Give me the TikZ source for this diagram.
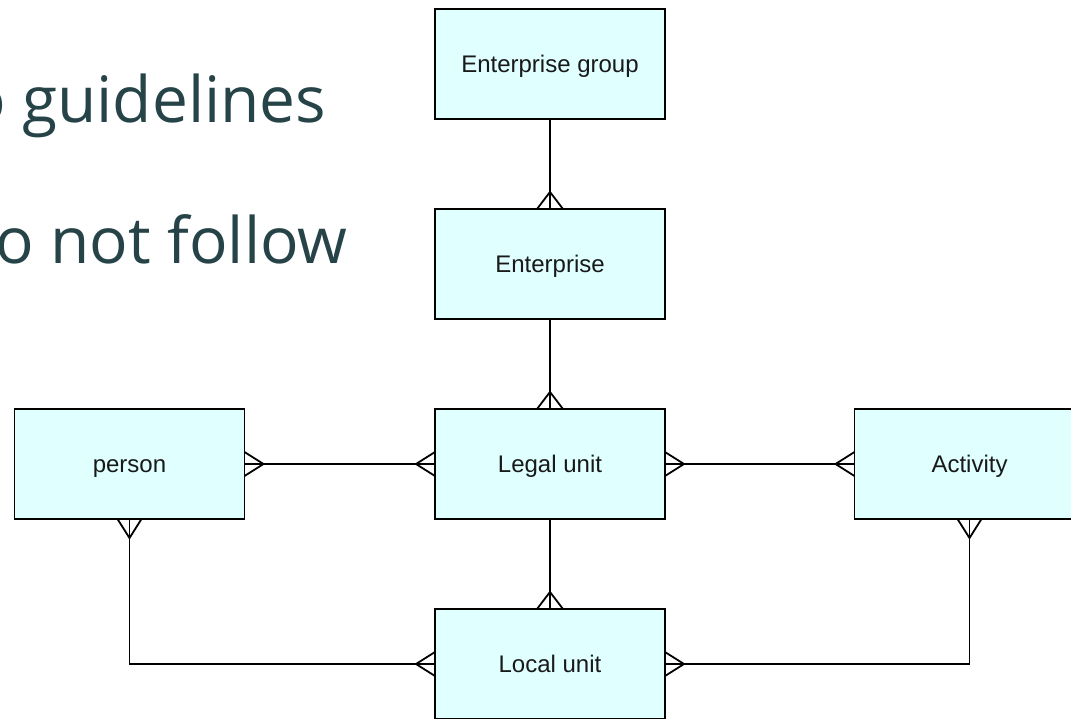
\documentclass[tikz,border=0pt]{standalone}
\usepackage{fontspec}
\setmainfont{Liberation Sans}
\newfontfamily\opensans{Open Sans}
\usetikzlibrary{calc}
\definecolor{slidetext}{RGB}{38,67,72}
\definecolor{boxfill}{RGB}{224,255,255}
\newcommand\crowfoot[3]{\draw[conn] ($(#1)+#3$) -- ($(#1)+#2$) -- ($(#1)-#3$);}
\tikzset{
  entity/.style={draw=black, line width=1.8pt, fill=boxfill, minimum width=230pt, minimum height=110pt, outer sep=0pt, inner sep=0pt, text height=18pt, text depth=2pt, font=\fontsize{24}{28}\selectfont, text=black!90},
  conn/.style={draw=black, line width=1.8pt},
  slide/.style={anchor=base west, inner sep=0pt, text=slidetext, font=\opensans\fontsize{64}{72}\selectfont}
}
\begin{document}
\begin{tikzpicture}[x=1pt,y=-1pt]
\useasboundingbox (0,0) rectangle (1071,718);
\clip (0,0) rectangle (1071,718);
\fill[white] (0,0) rectangle (1071,718);
\node[slide] (l1) at (-33,122) {o guidelines};
\node[slide] (l2) at (-5,263) {o not follow};
\node[entity] (grp) at (550,64) {Enterprise group};
\node[entity] (ent) at (550,264) {Enterprise};
\node[entity] (leg) at (550,464) {Legal unit};
\node[entity] (loc) at (550,664) {Local unit};
\node[entity] (per) at (129.5,464) {person};
\node[entity] (act) at (969.5,464) {Activity};
\draw[conn] (grp.south) -- (ent.north);
\crowfoot{ent.north}{(0,-17)}{(13,0)}
\draw[conn] (ent.south) -- (leg.north);
\crowfoot{leg.north}{(0,-17)}{(13,0)}
\draw[conn] (leg.south) -- (loc.north);
\crowfoot{loc.north}{(0,-17)}{(13,0)}
\draw[conn] (per.east) -- (leg.west);
\crowfoot{per.east}{(19,0)}{(0,12)}
\crowfoot{leg.west}{(-19,0)}{(0,12)}
\draw[conn] (leg.east) -- (act.west);
\crowfoot{leg.east}{(19,0)}{(0,12)}
\crowfoot{act.west}{(-19,0)}{(0,12)}
\draw[conn] (per.south) |- (loc.west);
\crowfoot{per.south}{(0,19)}{(12,0)}
\crowfoot{loc.west}{(-19,0)}{(0,12)}
\draw[conn] (act.south) |- (loc.east);
\crowfoot{act.south}{(0,19)}{(12,0)}
\crowfoot{loc.east}{(19,0)}{(0,12)}
\end{tikzpicture}
\end{document}
